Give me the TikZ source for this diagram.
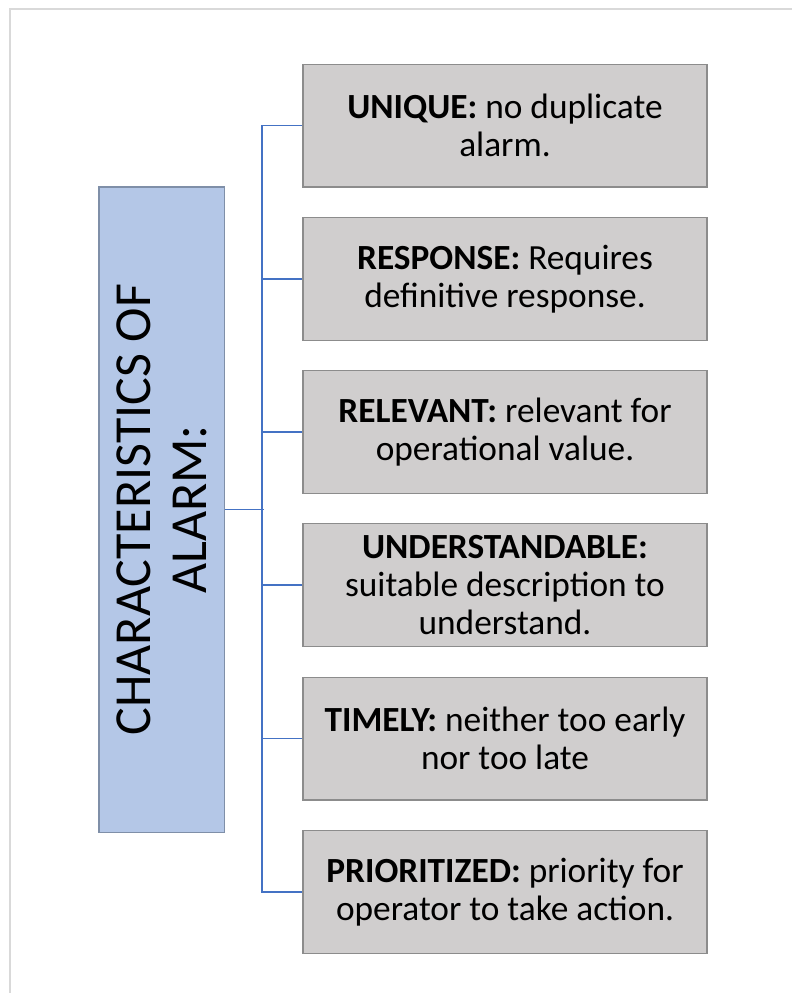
\documentclass[tikz,border=0pt]{standalone}
\usepackage{fontspec}
\setmainfont{Carlito}
\usepackage{xcolor}
\usepackage{tikz}

\definecolor{boxgray}{HTML}{D0CECE}
\definecolor{boxedge}{HTML}{8C8C8C}
\definecolor{charblue}{HTML}{B4C7E7}
\definecolor{charedge}{HTML}{7F8FA8}
\definecolor{linkblue}{HTML}{4472C4}
\definecolor{framegray}{HTML}{D9D9D9}

\begin{document}
\begin{tikzpicture}[x=0.75pt,y=-0.75pt,
    item/.style={fill=boxgray,draw=boxedge,line width=1pt,text=black,shape=rectangle,
      minimum width=303pt,minimum height=92pt,align=center,inner sep=0pt,
      font=\fontsize{26.5}{28.5}\selectfont},
    charbox/.style={fill=charblue,draw=charedge,line width=1pt,shape=rectangle,
      minimum width=94pt,minimum height=484pt,inner sep=0pt},
    link/.style={draw=linkblue,line width=1.4pt}]
    \useasboundingbox (0,0) rectangle (792,993);
    \draw[framegray,line width=1pt] (10,993) -- (10,9) -- (792,9);

    \node[charbox] (char) at (161.5,509.5) {};
    \node[rotate=90,align=center,font=\fontsize{39}{42}\selectfont] (chartext) at (char.center) {CHARACTERISTICS OF\\ALARM:};

    \node[item] (unique) at (505,125.5) {\textbf{UNIQUE:} no duplicate\\alarm.};
    \node[item] (response) at (505,279) {\textbf{RESPONSE:} Requires\\definitive response.};
    \node[item] (relevant) at (505,432) {\textbf{RELEVANT:} relevant for\\operational value.};
    \node[item] (underst) at (505,585) {\textbf{UNDERSTANDABLE:}\\suitable description to\\understand.};
    \node[item] (timely) at (505,738.5) {\textbf{TIMELY:} neither too early\\nor too late};
    \node[item] (prior) at (505,892) {\textbf{PRIORITIZED:} priority for\\operator to take action.};

    \draw[link] (unique.west) -- ++(-40,0) |- (prior.west);
    \draw[link] (response.west) -- ++(-40,0);
    \draw[link] (relevant.west) -- ++(-40,0);
    \draw[link] (underst.west) -- ++(-40,0);
    \draw[link] (timely.west) -- ++(-40,0);
    \draw[link] (char.east) -- ++(39,0);
\end{tikzpicture}
\end{document}
